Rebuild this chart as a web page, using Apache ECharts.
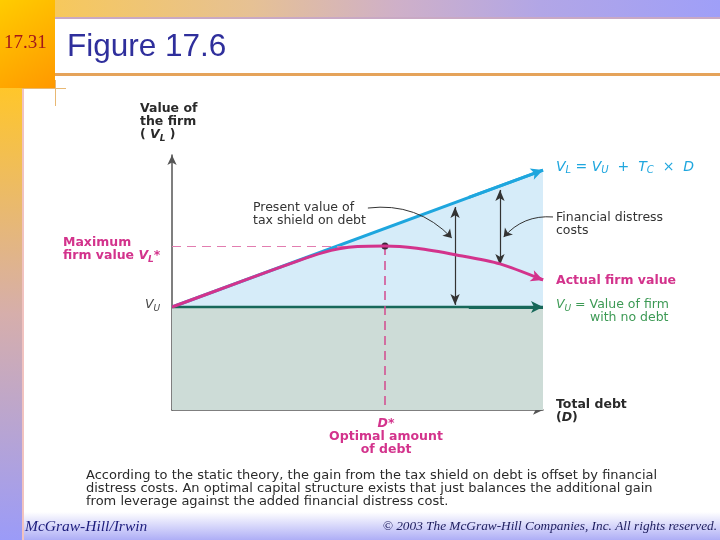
<!DOCTYPE html>
<html>
<head>
<meta charset="utf-8">
<script src="https://cdn.jsdelivr.net/npm/echarts@6/dist/echarts.min.js"></script>
<style>
  html, body { margin: 0; padding: 0; background: #fff; }
  #chart { width: 720px; height: 540px; }
</style>
</head>
<body>
<div id="chart"></div>
<script>
// values (debt 0..100, firm value 0..100)
const debtX = [0, 20, 34, 40.7, 45, 50, 57.4, 66, 76.7, 88.4, 100];
const actualValue = [40.4, 51.1, 58.5, 61.7, 63.2, 64.1, 64.3, 63.4, 60.8, 57.3, 51.0];
const leveredX = [0, 100];
const leveredValue = [40.4, 94.1];
const unleveredValue = [40.4, 40.4];
const optimalDebt = 57.4;
const maxFirmValue = 64.3;
// double arrows: [debt, from value, to value]
const taxShieldArrow = [76.3, 41.2, 79.6];
const distressArrow = [88.4, 56.9, 86.3];
// callout curves: [label end, arrow tip]
const taxShieldCallout = [[52.8, 79.2], [75.4, 67.5]];
const distressCallout = [[102.7, 75.7], [89.4, 67.8]];

const BLUE = "#1ea6de";
const PINK = "#d3338c";
const TEAL = "#17685a";
const GREEN = "#3d9a55";
const AXIS = "#555";
const FONT = '"DejaVu Sans", sans-serif';

function pairs(xs, ys) {
    return xs.map(function (x, i) { return [x, ys[i]]; });
}

// short segment at the end of a line, used for the arrow head
function endArrow(xs, ys, color) {
    const n = xs.length;
    const x0 = xs[n - 2], y0 = ys[n - 2], x1 = xs[n - 1], y1 = ys[n - 1];
    const t = 0.8;
    return {
        silent: true,
        symbol: ["none", "arrow"],
        symbolSize: [9, 12],
        label: { show: false },
        lineStyle: { color: color, width: 3, type: "solid" },
        data: [[{ coord: [x0 + (x1 - x0) * t, y0 + (y1 - y0) * t] }, { coord: [x1, y1] }]],
    };
}

function callout(coords, curveness) {
    return {
        type: "lines",
        coordinateSystem: "cartesian2d",
        z: 6,
        clip: false,
        silent: true,
        symbol: ["none", "arrow"],
        symbolSize: 8,
        lineStyle: { color: "#333", width: 1, opacity: 1, curveness: curveness },
        data: [{ coords: coords }],
    };
}

const chartDom = document.getElementById("chart");
const myChart = echarts.init(chartDom);

function txt(x, y, text, opts) {
    return {
        type: "text",
        x: x,
        y: y,
        z: 100,
        style: Object.assign({
            text: text,
            font: "12.5px " + FONT,
            fill: "#333",
            textVerticalAlign: "middle",
        }, opts || {}),
    };
}

function subRich(color, bold, size) {
    const w = bold ? "bold " : "";
    const s = size || 12.5;
    return {
        i: { font: "italic " + w + s + "px " + FONT, fill: color },
        s: { font: "italic " + w + Math.round(s * 0.68) + "px " + FONT, fill: color, padding: [7, 0, 0, 0] },
        n: { font: w + s + "px " + FONT, fill: color },
    };
}

const bold = "bold 12.5px " + FONT;
const caption = "13px " + FONT;

const option = {
    backgroundColor: "#fff",
    animation: false,
    grid: { left: 172, right: 177, top: 155, bottom: 130 },
    xAxis: {
        type: "value",
        min: 0,
        max: 100,
        axisLine: { show: true, symbol: ["none", "arrow"], symbolSize: [7, 10], lineStyle: { color: AXIS, width: 1.5 } },
        axisTick: { show: false },
        axisLabel: { show: false },
        splitLine: { show: false },
    },
    yAxis: {
        type: "value",
        min: 0,
        max: 100,
        axisLine: { show: true, symbol: ["none", "arrow"], symbolSize: [7, 10], lineStyle: { color: AXIS, width: 1.5 } },
        axisTick: { show: false },
        axisLabel: { show: false },
        splitLine: { show: false },
    },
    graphic: [
        // slide frame
        { type: "rect", z: -10, shape: { x: 0, y: 0, width: 720, height: 18 },
          style: { fill: new echarts.graphic.LinearGradient(0, 0, 1, 0, [
              { offset: 0, color: "#fbca4c" }, { offset: 0.35, color: "#e6c194" },
              { offset: 0.55, color: "#cfb0c8" }, { offset: 0.75, color: "#b2a6e6" }, { offset: 1, color: "#9f9ff8" }]) } },
        { type: "rect", z: -9, shape: { x: 55, y: 17, width: 665, height: 2 }, style: { fill: "#c9a9c4" } },
        { type: "rect", z: -9, shape: { x: 55, y: 73, width: 665, height: 3 }, style: { fill: "#e5a35a" } },
        { type: "rect", z: -8, shape: { x: 0, y: 0, width: 55, height: 88 },
          style: { fill: new echarts.graphic.LinearGradient(0, 0, 1, 1, [
              { offset: 0, color: "#ffcc00" }, { offset: 1, color: "#ff9800" }]) } },
        { type: "rect", z: -8, shape: { x: 0, y: 88, width: 22, height: 452 },
          style: { fill: new echarts.graphic.LinearGradient(0, 0, 0, 1, [
              { offset: 0, color: "#ffc62a" }, { offset: 0.5, color: "#d6aeab" }, { offset: 1, color: "#9b9bf8" }]) } },
        { type: "rect", z: -8, shape: { x: 22, y: 88, width: 2, height: 452 }, style: { fill: "#f1c3c0" } },
        { type: "rect", z: -9, shape: { x: 22, y: 512, width: 698, height: 28 },
          style: { fill: new echarts.graphic.LinearGradient(0, 0, 0, 1, [
              { offset: 0, color: "#ffffff" }, { offset: 1, color: "#aeaef6" }]) } },
        { type: "line", z: -7, shape: { x1: 22, y1: 88.5, x2: 66, y2: 88.5 }, style: { stroke: "#e8b873", lineWidth: 1 } },
        { type: "line", z: -7, shape: { x1: 55.5, y1: 80, x2: 55.5, y2: 106 }, style: { stroke: "#e8b873", lineWidth: 1 } },
        txt(4, 43, "17.31", { font: '19px "Liberation Serif", serif', fill: "#a3171a" }),
        txt(67, 47, "Figure 17.6", { font: '31.5px "Liberation Sans", Arial, sans-serif', fill: "#2f2f9c" }),
        txt(25, 527, "McGraw-Hill/Irwin", { font: 'italic 15.5px "Liberation Serif", serif', fill: "#1c1c7c" }),
        txt(717, 527, "\u00a9 2003 The McGraw-Hill Companies, Inc. All rights reserved.",
            { font: 'italic 13.3px "Liberation Serif", serif', fill: "#1c1c5c", textAlign: "right" }),

        // figure labels
        txt(140, 109, "Value of", { font: bold, fill: "#2a2a2a" }),
        txt(140, 122, "the firm", { font: bold, fill: "#2a2a2a" }),
        txt(140, 135, "{n|( }{i|V}{s|L}{n| )}", { rich: subRich("#2a2a2a", true) }),
        txt(63, 243, "Maximum", { font: bold, fill: PINK }),
        txt(63, 256, "{n|firm value }{i|V}{s|L}{n|*}", { rich: subRich(PINK, true) }),
        txt(145, 305, "{i|V}{s|U}", { rich: subRich("#444", false) }),
        txt(253, 208, "Present value of", { fill: "#333" }),
        txt(253, 221, "tax shield on debt", { fill: "#333" }),
        txt(556, 167, "{i|V}{s|L}{n| = }{i|V}{s|U}{n|  +  }{i|T}{s|C}{n|  \u00d7  }{i|D}", { rich: subRich(BLUE, false, 14) }),
        txt(556, 218, "Financial distress", { fill: "#333" }),
        txt(556, 231, "costs", { fill: "#333" }),
        txt(556, 281, "Actual firm value", { font: bold, fill: PINK }),
        txt(556, 305, "{i|V}{s|U}{n| = Value of firm}", { rich: subRich(GREEN, false) }),
        txt(590, 318, "with no debt", { fill: GREEN }),
        txt(556, 405, "Total debt", { font: bold, fill: "#2a2a2a" }),
        txt(556, 418, "{n|(}{i|D}{n|)}", { rich: subRich("#2a2a2a", true) }),
        txt(386, 424, "D*", { font: "italic " + bold, fill: PINK, textAlign: "center" }),
        txt(386, 437, "Optimal amount", { font: bold, fill: PINK, textAlign: "center" }),
        txt(386, 450, "of debt", { font: bold, fill: PINK, textAlign: "center" }),
        txt(86, 476, "According to the static theory, the gain from the tax shield on debt is offset by financial", { font: caption, fill: "#2a2a2a" }),
        txt(86, 489, "distress costs. An optimal capital structure exists that just balances the additional gain", { font: caption, fill: "#2a2a2a" }),
        txt(86, 502, "from leverage against the added financial distress cost.", { font: caption, fill: "#2a2a2a" }),
    ],
    series: [
        {
            // area under V_L (light blue above V_U)
            name: "VL",
            type: "line",
            z: 2,
            data: pairs(leveredX, leveredValue),
            symbol: "none",
            lineStyle: { color: BLUE, width: 3 },
            areaStyle: { color: "#d6ecf9", opacity: 1 },
            markLine: endArrow(leveredX, leveredValue, BLUE),
        },
        {
            name: "VU",
            type: "line",
            z: 3,
            data: pairs(leveredX, unleveredValue),
            symbol: "none",
            lineStyle: { color: TEAL, width: 2.5 },
            areaStyle: { color: "#cddcd7", opacity: 1 },
            markLine: endArrow(leveredX, unleveredValue, TEAL),
        },
        {
            name: "Actual",
            type: "line",
            z: 5,
            smooth: 0.25,
            data: pairs(debtX, actualValue),
            symbol: "none",
            lineStyle: { color: PINK, width: 3 },
            markLine: endArrow(debtX, actualValue, PINK),
            markPoint: {
                silent: true,
                symbol: "circle",
                symbolSize: 7,
                itemStyle: { color: "#3b2636" },
                label: { show: false },
                data: [{ coord: [optimalDebt, maxFirmValue] }],
            },
        },
        {
            // dashed guides and double arrows
            name: "guides",
            type: "line",
            z: 4,
            clip: false,
            data: [],
            markLine: {
                silent: true,
                label: { show: false },
                symbol: ["none", "none"],
                data: [
                    [{ coord: [0, maxFirmValue], lineStyle: { color: "#e27db0", type: [9, 6], width: 1 } },
                     { coord: [optimalDebt, maxFirmValue] }],
                    [{ coord: [optimalDebt, maxFirmValue], lineStyle: { color: "#d2498f", type: [9, 6], width: 1.5 } },
                     { coord: [optimalDebt, 0] }],
                    [{ coord: [taxShieldArrow[0], taxShieldArrow[1]], symbol: "arrow", symbolSize: [7, 11],
                       lineStyle: { color: "#333", width: 1.2, type: "solid" } },
                     { coord: [taxShieldArrow[0], taxShieldArrow[2]], symbol: "arrow", symbolSize: [7, 11] }],
                    [{ coord: [distressArrow[0], distressArrow[1]], symbol: "arrow", symbolSize: [7, 11],
                       lineStyle: { color: "#333", width: 1.2, type: "solid" } },
                     { coord: [distressArrow[0], distressArrow[2]], symbol: "arrow", symbolSize: [7, 11] }],
                ],
            },
        },
        callout(taxShieldCallout, 0.25),
        callout(distressCallout, -0.25),
    ],
};
myChart.setOption(option);
</script>
</body>
</html>
